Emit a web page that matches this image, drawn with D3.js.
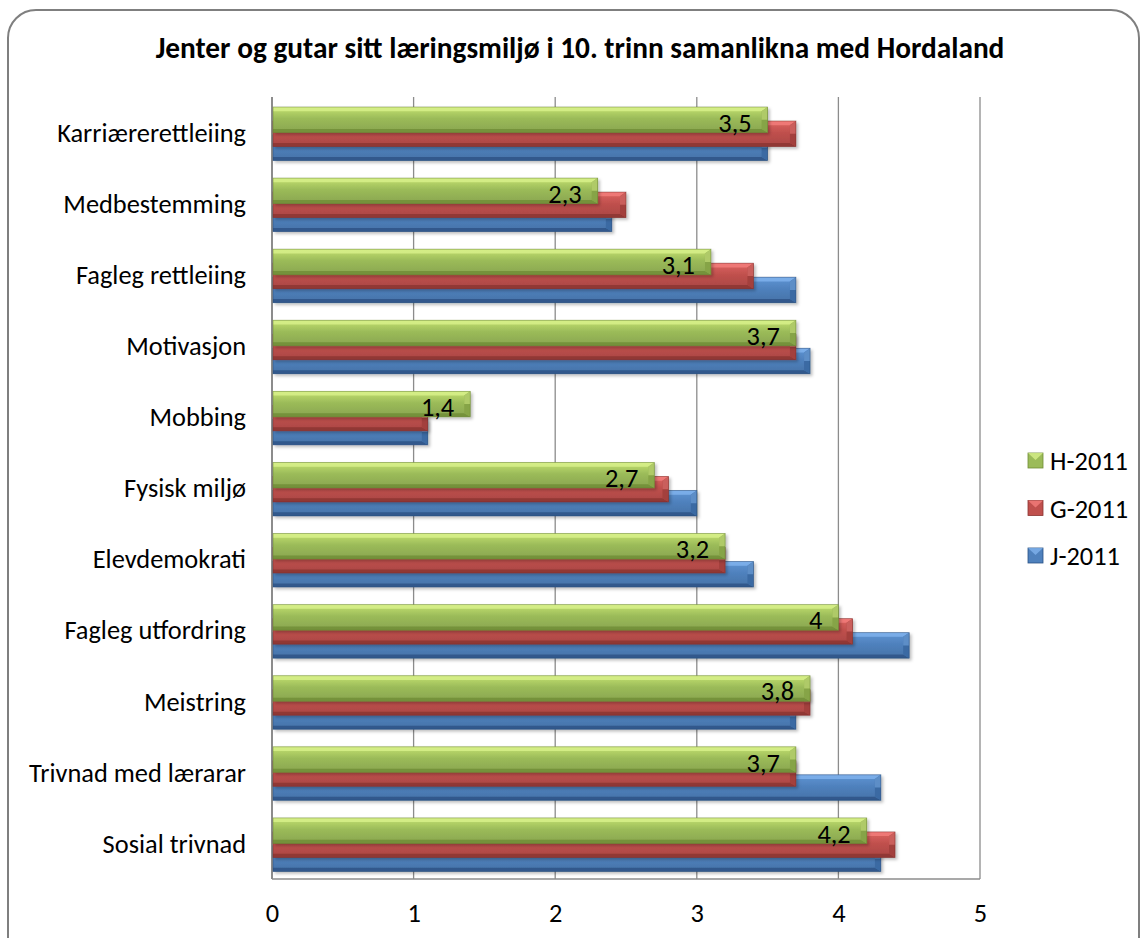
<!DOCTYPE html>
<html><head><meta charset="utf-8">
<script src="https://cdn.jsdelivr.net/npm/d3@7"></script>
<style>body{margin:0;background:#fff;}svg{display:block;}</style>
</head><body>
<script>
const categories = ["Karriærerettleiing","Medbestemming","Fagleg rettleiing","Motivasjon","Mobbing","Fysisk miljø","Elevdemokrati","Fagleg utfordring","Meistring","Trivnad med lærarar","Sosial trivnad"];
const seriesNames = ["H-2011","G-2011","J-2011"];
const hValues = [3.5,2.3,3.1,3.7,1.4,2.7,3.2,4.0,3.8,3.7,4.2];
const gValues = [3.7,2.5,3.4,3.7,1.1,2.8,3.2,4.1,3.8,3.7,4.4];
const jValues = [3.5,2.4,3.7,3.8,1.1,3.0,3.4,4.5,3.7,4.3,4.3];
const xTicks = [0,1,2,3,4,5];
const title = "Jenter og gutar sitt læringsmiljø i 10. trinn samanlikna med Hordaland";

const W=1142,H=938;
const font = "Calibri, Carlito, 'Open Sans', 'Noto Sans', sans-serif";
const svg=d3.select("body").append("svg").attr("width",W).attr("height",H);

const pal = {
  "H-2011":{main:"#9bbb59",light:"#d7f08a",top:"#c3e070",dark:"#6f8c36",end:"#86a446"},
  "G-2011":{main:"#c0504d",light:"#f27d7a",top:"#de6461",dark:"#8a3331",end:"#a33f3c"},
  "J-2011":{main:"#4f81bd",light:"#7fb1ec",top:"#5f95d4",dark:"#2a5284",end:"#3b6aa3"}
};
const defs=svg.append("defs");
seriesNames.forEach((s,i)=>{
  const g=defs.append("linearGradient").attr("id","g"+i).attr("x1",0).attr("x2",0).attr("y1",0).attr("y2",1);
  g.append("stop").attr("offset","0%").attr("stop-color",pal[s].top);
  g.append("stop").attr("offset","45%").attr("stop-color",pal[s].main);
  g.append("stop").attr("offset","100%").attr("stop-color",d3.color(pal[s].main).darker(0.35));
});
const f=defs.append("filter").attr("id","sh").attr("x","-5%").attr("y","-30%").attr("width","115%").attr("height","180%");
f.append("feDropShadow").attr("dx",2).attr("dy",2).attr("stdDeviation",1.5).attr("flood-color","#000").attr("flood-opacity",0.25);

// outer rounded border
svg.append("rect").attr("x",8).attr("y",10).attr("width",1131).attr("height",960).attr("rx",28).attr("ry",28)
  .attr("fill","#fff").attr("stroke","#7f7f7f").attr("stroke-width",2);

// title
const t=svg.append("text").attr("x",580).attr("y",58).attr("text-anchor","middle")
  .attr("font-family",font).attr("font-weight","bold").attr("font-size",21).attr("fill","#000").text(title);
let tw=t.node().getComputedTextLength(); t.attr("font-size",21*849/tw);

const x=d3.scaleLinear().domain([0,5]).range([272,980]);
const y=d3.scaleBand().domain(categories).range([97,879]).paddingInner(0).paddingOuter(0);

// grid
svg.append("g").selectAll("line").data(xTicks.slice(1)).join("line")
  .attr("x1",d=>x(d)).attr("x2",d=>x(d)).attr("y1",97).attr("y2",879)
  .attr("stroke","#8c8c8c").attr("stroke-width",1.3);
svg.append("line").attr("x1",272).attr("x2",980).attr("y1",879).attr("y2",879).attr("stroke","#8c8c8c").attr("stroke-width",1.5);
svg.append("line").attr("x1",272).attr("x2",272).attr("y1",97).attr("y2",879).attr("stroke","#8c8c8c").attr("stroke-width",2);

// measure category font
const probe=svg.append("text").attr("font-family",font).attr("font-size",20).text("Karriærerettleiing");
const cfs=20*189/probe.node().getComputedTextLength(); probe.remove();

// axis labels
const xa=d3.axisBottom(x).tickValues(xTicks).tickSize(0).tickFormat(d=>String(d));
const xg=svg.append("g").attr("transform","translate(0,900)").call(xa);
xg.select(".domain").remove();
xg.attr("font-size",cfs).attr("font-family",font);
xg.selectAll("text").style("font-size",cfs+"px").style("font-family",font).attr("fill","#000").attr("dy","0.71em");

const ya=d3.axisLeft(y).tickSize(0).tickPadding(26);
const yg=svg.append("g").attr("transform","translate(272,0)").call(ya);
yg.select(".domain").remove();
yg.attr("font-size",cfs).attr("font-family",font);
yg.selectAll("text").style("font-size",cfs+"px").attr("fill","#000").attr("dy","0.35em");

// bars: J (bottom), G, H on top
const data = {"H-2011":hValues,"G-2011":gValues,"J-2011":jValues};
const barH=25.5, offs={"H-2011":10,"G-2011":24,"J-2011":38}; // offsets from band top
const order=["J-2011","G-2011","H-2011"];
const b=6;
order.forEach(s=>{
  const si=seriesNames.indexOf(s);
  const g=svg.append("g");
  categories.forEach((c,i)=>{
    const v=data[s][i];
    const x0=x(0)+1, x1=x(v), y0=y(c)+offs[s], y1=y0+barH;
    const bg=g.append("g").attr("filter","url(#sh)");
    bg.append("rect").attr("x",x0).attr("y",y0).attr("width",x1-x0).attr("height",barH).attr("fill",`url(#g${si})`);
    bg.append("polygon").attr("points",[[x0,y0],[x1,y0],[x1-b,y0+b*0.7],[x0,y0+b*0.7]].join(" ")).attr("fill",pal[s].light).attr("opacity",0.85);
    bg.append("polygon").attr("points",[[x0,y1],[x1,y1],[x1-b,y1-b*0.6],[x0,y1-b*0.6]].join(" ")).attr("fill",pal[s].dark).attr("opacity",0.8);
    bg.append("polygon").attr("points",[[x1,y0],[x1,y1],[x1-b,y1-b*0.6],[x1-b,y0+b*0.7]].join(" ")).attr("fill",pal[s].end);
    bg.append("polygon").attr("points",[[x1,y0],[x1-b,y0+b*0.7],[x1-b,y0+barH*0.5],[x1,y0+barH*0.5]].join(" ")).attr("fill",pal[s].light).attr("opacity",0.5);
    bg.append("rect").attr("x",x0).attr("y",y0).attr("width",x1-x0).attr("height",barH).attr("fill","none").attr("stroke",d3.color(pal[s].dark).darker(0.3)).attr("stroke-width",0.8).attr("stroke-opacity",0.6);
  });
});

// data labels for H
svg.append("g").selectAll("text").data(categories).join("text")
  .attr("x",(c,i)=>x(hValues[i])-16).attr("y",c=>y(c)+offs["H-2011"]+barH/2+3)
  .attr("text-anchor","end").attr("dominant-baseline","central")
  .attr("font-family",font).attr("font-size",cfs).attr("fill","#000")
  .text((c,i)=>String(hValues[i]).replace(".",","));

// legend
const lg=svg.append("g");
seriesNames.forEach((s,i)=>{
  const ly=460+i*47.5;
  lg.append("rect").attr("x",1028).attr("y",ly-7).attr("width",15).attr("height",15).attr("fill",pal[s].main).attr("stroke",pal[s].dark).attr("stroke-width",0.8);
  lg.append("polygon").attr("points",[[1028,ly-7],[1043,ly-7],[1035.5,ly]].join(" ")).attr("fill",pal[s].light).attr("opacity",0.8);
  lg.append("text").attr("x",1050).attr("y",ly+1).attr("dominant-baseline","central").attr("font-family",font).attr("font-size",cfs).attr("fill","#000").text(s);
});
</script>
</body></html>
